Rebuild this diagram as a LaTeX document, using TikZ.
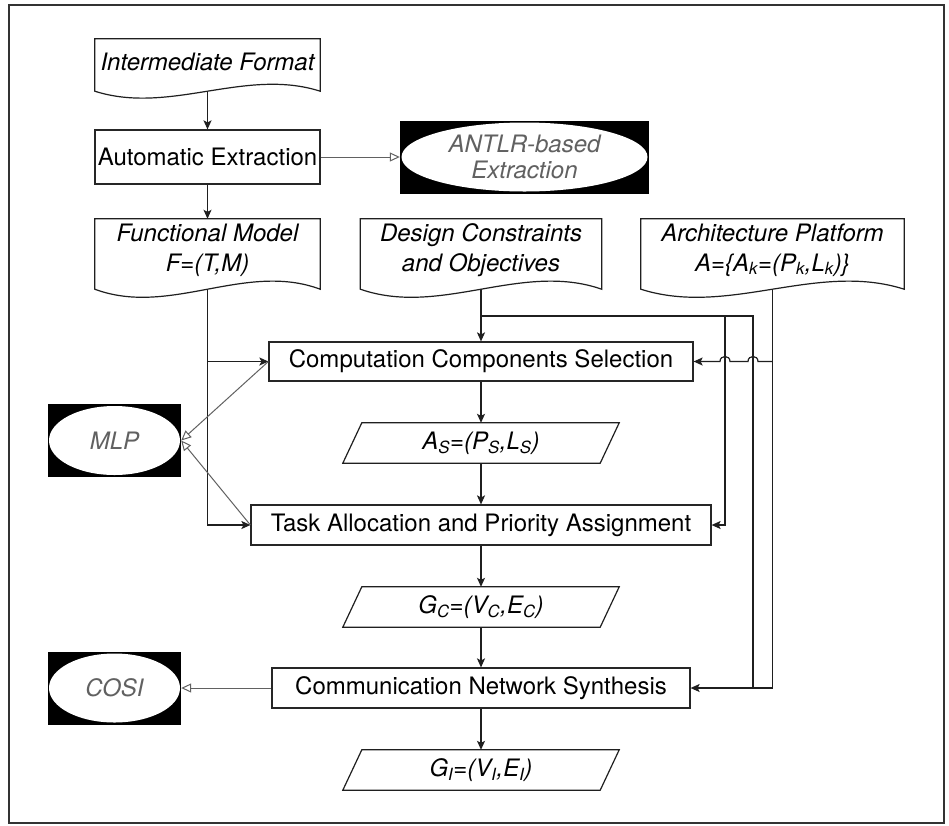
\documentclass[tikz,border=0pt]{standalone}
\usepackage{fontspec}
\setmainfont{TeX Gyre Heros}
\usetikzlibrary{arrows.meta,calc}
\newcommand{\mydocshape}[3]{%
  \draw[ln] (#1.north west) -- (#1.north east) -- ($(#1.south east)+(0,#2)$)
    .. controls ($(#1.south east)!0.3333!(#1.south west)+(0,#2-#3)$) and ($(#1.south east)!0.6667!(#1.south west)+(0,#2+#3)$) ..
    ($(#1.south west)+(0,#2)$) -- cycle;}
\newcommand{\mypara}[2]{%
  \draw[ln] ($(#1.north west)+(#2,0)$) -- (#1.north east) -- ($(#1.south east)+(-#2,0)$) -- (#1.south west) -- cycle;}
\begin{document}
\begin{tikzpicture}[x=1pt,y=-1pt,
  font=\fontsize{24}{30}\selectfont,
  ln/.style={draw=black!88, line width=1.2pt},
  box/.style={draw=black!85, line width=1.2pt, rectangle, inner sep=0pt},
  docnode/.style={rectangle, inner sep=0pt, align=center, font=\fontsize{24}{30}\selectfont\itshape},
  paranode/.style={rectangle, inner sep=0pt, font=\fontsize{24}{30}\selectfont\itshape},
  blackbox/.style n args={2}{rectangle, fill=black, inner sep=0pt, align=center, text=black!62,
     font=\fontsize{24}{26}\selectfont\itshape,
     path picture={\fill[white] (path picture bounding box.center) ellipse [x radius=#1, y radius=#2];}},
  arr/.style={ln, -{Stealth[length=9pt,width=8pt,inset=2pt]}},
  oarr/.style={draw=black!62, line width=1pt, -{Triangle[open,length=10pt,width=9pt,fill=white]}},
]
\useasboundingbox (0,0) rectangle (949,825);
\fill[white] (0,0) rectangle (949,825);
\draw[draw=black!80, line width=1.8pt] (9,5) rectangle (944,823);

% documents
\node[docnode, minimum width=225pt, minimum height=46pt] (ifn) at (207.5,62) {Intermediate Format};
\mydocshape{ifn}{6}{24}
\node[docnode, minimum width=225pt, minimum height=62pt] (fm) at (207.5,250) {Functional Model\\F=(T,M)};
\mydocshape{fm}{8}{28}
\node[docnode, minimum width=241pt, minimum height=62pt] (dc) at (481,250) {Design Constraints\\and Objectives};
\mydocshape{dc}{8}{28}
\node[docnode, minimum width=263pt, minimum height=62pt] (ap) at (772.5,250) {Architecture Platform\\A=\{A\textsubscript{k}=(P\textsubscript{k},L\textsubscript{k})\}};
\mydocshape{ap}{8}{28}
\coordinate (ifb) at ($(ifn.south)+(0,6)$);
\coordinate (fmb) at ($(fm.south)+(0,8)$);
\coordinate (dcb) at ($(dc.south)+(0,8)$);
\coordinate (apb) at ($(ap.south)+(0,8)$);

% process boxes
\node[box, minimum width=225pt, minimum height=54pt] (ae) at (207.5,157) {Automatic Extraction};
\node[box, minimum width=424pt, minimum height=39pt] (ccs) at (481,361.5) {Computation Components Selection};
\node[box, minimum width=460pt, minimum height=40pt] (ta) at (481,525) {Task Allocation and Priority Assignment};
\node[box, minimum width=418pt, minimum height=40pt] (cns) at (481,688) {Communication Network Synthesis};

% data parallelograms
\node[paranode, minimum width=276pt, minimum height=40pt] (as) at (481,443) {A\textsubscript{S}=(P\textsubscript{S},L\textsubscript{S})};
\mypara{as}{19}
\node[paranode, minimum width=276pt, minimum height=40pt] (gc) at (481,607) {G\textsubscript{C}=(V\textsubscript{C},E\textsubscript{C})};
\mypara{gc}{19}
\node[paranode, minimum width=276pt, minimum height=40pt] (gi) at (481,770) {G\textsubscript{I}=(V\textsubscript{I},E\textsubscript{I})};
\mypara{gi}{19}

% tools
\node[blackbox={123pt}{34.5pt}, minimum width=249pt, minimum height=73pt] (antlr) at (524.5,157) {ANTLR-based\\Extraction};
\node[blackbox={65.5pt}{34.5pt}, minimum width=133pt, minimum height=73pt] (mlp) at (114.5,440.5) {MLP};
\node[blackbox={65.5pt}{34.5pt}, minimum width=133pt, minimum height=73pt] (cosi) at (114.5,688) {COSI};

% connectors
\draw[arr] (ifb) -- (ae.north);
\draw[oarr] (ae.east) -- (antlr.west);
\draw[arr] (ae.south) -- (fm.north);
\draw[arr] (fmb) |- (ta.west);
\draw[arr] (fmb |- ccs.west) -- (ccs.west);
\draw[arr] (dcb) -- (ccs.north);
\coordinate (jA) at (725,316);
\coordinate (jB) at (753,316);
\draw[ln] (dcb |- jB) -- (jB) -- (jB |- cns.east);
\draw[arr] (jA) |- (ta.east);
\draw[arr] (apb) |- (cns.east);
\coordinate (kA) at (jA |- ccs.east);
\coordinate (kB) at (jB |- ccs.east);
\draw[arr] (apb |- ccs.east) -- ($(kB)+(5,0)$)
  .. controls ($(kB)+(5,-6.7)$) and ($(kB)+(-5,-6.7)$) .. ($(kB)+(-5,0)$)
  -- ($(kA)+(5,0)$)
  .. controls ($(kA)+(5,-6.7)$) and ($(kA)+(-5,-6.7)$) .. ($(kA)+(-5,0)$)
  -- (ccs.east);
\draw[arr] (ccs.south) -- (as.north);
\draw[arr] (as.south) -- (ta.north);
\draw[arr] (ta.south) -- (gc.north);
\draw[arr] (gc.south) -- (cns.north);
\draw[arr] (cns.south) -- (gi.north);
\draw[oarr] (ccs.west) -- (mlp.east);
\draw[oarr] (ta.west) -- (mlp.east);
\draw[oarr] (cns.west) -- (cosi.east);
\end{tikzpicture}
\end{document}
